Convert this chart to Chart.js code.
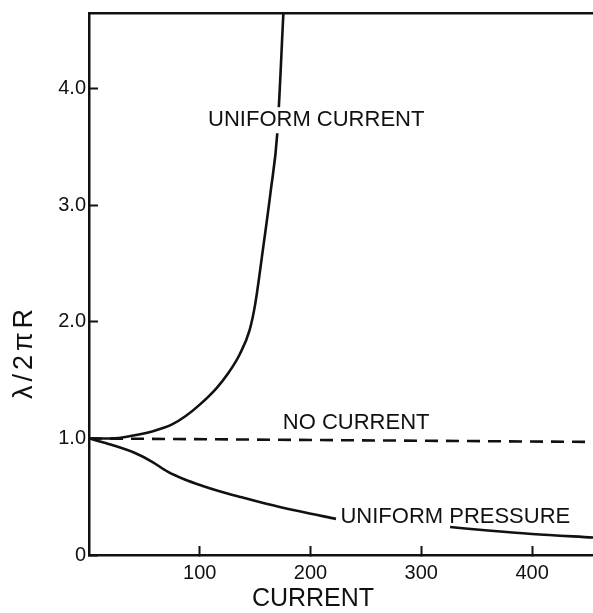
<!DOCTYPE html>
<html>
<head>
<meta charset="utf-8">
<script src="https://cdn.jsdelivr.net/npm/chart.js@4.4.0/dist/chart.umd.min.js"></script>
<style>
  html, body { margin: 0; padding: 0; background: #fff; }
</style>
</head>
<body>
<canvas id="chart" width="593" height="613"></canvas>
<script>
// values (x = current, y = lambda / 2 pi R)
const uniformCurrentX = [0, 20, 40, 57, 75, 87, 100, 115, 125, 136, 145, 150, 157, 164, 170, 175.5];
const uniformCurrentY = [1.0, 1.0, 1.025, 1.06, 1.12, 1.19, 1.29, 1.43, 1.55, 1.72, 1.93, 2.15, 2.62, 3.12, 3.62, 4.65];

const noCurrentX = [0, 455];
const noCurrentY = [1.0, 0.97];

// the null leaves the gap where the label sits
const uniformPressureX = [0, 15, 41.5, 57, 71, 87, 102, 117, 138, 160, 190, 223, 270, 326, 360, 400, 455];
const uniformPressureY = [1.0, 0.96, 0.875, 0.80, 0.715, 0.645, 0.595, 0.55, 0.495, 0.44, 0.375, 0.31, null, 0.24, 0.21, 0.18, 0.15];

const xTicks = [100, 200, 300, 400];
const yTicks = ['0', '1.0', '2.0', '3.0', '4.0'];

const INK = '#111';
const FONT = '"Liberation Sans", Arial, sans-serif';

function toPoints(xs, ys) {
    return xs.map((x, i) => ({ x: x, y: ys[i] }));
}

function lineSet(label, xs, ys, dash) {
    return {
        label: label,
        data: toPoints(xs, ys),
        borderColor: INK,
        borderWidth: 2.6,
        borderDash: dash || [],
        pointRadius: 0,
        fill: false,
        spanGaps: false,
        cubicInterpolationMode: 'monotone'
    };
}

const notes = [
    { text: 'UNIFORM CURRENT', x: 107.5, y: 3.73, clear: true },
    { text: 'NO CURRENT', x: 175, y: 1.13 },
    { text: 'UNIFORM PRESSURE', x: 227, y: 0.33 }
];

const notesPlugin = {
    id: 'notes',
    afterDraw(chart) {
        const ctx = chart.ctx,
            xs = chart.scales.x,
            ys = chart.scales.y;
        ctx.save();
        ctx.font = '22px ' + FONT;
        ctx.textBaseline = 'middle';
        ctx.textAlign = 'left';
        notes.forEach(n => {
            const px = xs.getPixelForValue(n.x),
                py = ys.getPixelForValue(n.y);
            if (n.clear) {
                const w = ctx.measureText(n.text).width;
                ctx.fillStyle = '#fff';
                ctx.fillRect(px - 4, py - 13, w + 8, 26);
            }
            ctx.fillStyle = INK;
            ctx.fillText(n.text, px, py);
        });

        // axis titles
        ctx.font = '25px ' + FONT;
        ctx.textAlign = 'center';
        ctx.fillText('CURRENT', 313, 599);

        ctx.translate(25, 352);
        ctx.rotate(-Math.PI / 2);
        ctx.font = '27px ' + FONT;
        ctx.letterSpacing = '4px';
        ctx.fillText('\u03bb/2\u03c0R', 0, 0);
        ctx.restore();
    }
};

// drop the half-label padding chart.js reserves so the frame sits where the figure has it
function noPad(s) {
    s.paddingTop = 0;
    s.paddingBottom = 0;
    s.paddingLeft = 0;
    s.paddingRight = 0;
}

const ctx = document.getElementById('chart').getContext('2d');
new Chart(ctx, {
    type: 'line',
    data: {
        datasets: [
            lineSet('Uniform current', uniformCurrentX, uniformCurrentY),
            lineSet('No current', noCurrentX, noCurrentY, [13, 8]),
            lineSet('Uniform pressure', uniformPressureX, uniformPressureY)
        ]
    },
    options: {
        responsive: false,
        animation: false,
        layout: { padding: { top: 13, right: 0, left: 0, bottom: 0 } },
        plugins: {
            legend: { display: false },
            tooltip: { enabled: false }
        },
        scales: {
            x: {
                type: 'linear',
                position: 'bottom',
                min: 0,
                max: 455,
                afterFit: s => { s.height = 58; noPad(s); },
                afterBuildTicks: s => { s.ticks = xTicks.map(v => ({ value: v })); },
                ticks: {
                    includeBounds: false,
                    color: INK,
                    font: { family: FONT, size: 20 },
                    padding: 15,
                    maxRotation: 0
                },
                grid: {
                    drawOnChartArea: false,
                    tickLength: -9,
                    tickColor: INK,
                    tickWidth: 2
                },
                border: { color: INK, width: 2.5 }
            },
            xTop: {
                type: 'linear',
                position: 'top',
                min: 0,
                max: 455,
                afterFit: s => { s.height = 0; noPad(s); },
                ticks: { display: false },
                grid: { display: false },
                border: { color: INK, width: 2.5 }
            },
            y: {
                min: 0,
                max: 4.65,
                afterFit: s => { s.width = 89; noPad(s); },
                afterBuildTicks: s => { s.ticks = yTicks.map(t => ({ value: parseFloat(t) })); },
                ticks: {
                    includeBounds: false,
                    color: INK,
                    font: { family: FONT, size: 20 },
                    padding: 12,
                    callback: (v, i) => yTicks[i]
                },
                grid: {
                    drawOnChartArea: false,
                    tickLength: -9,
                    tickColor: INK,
                    tickWidth: 2
                },
                border: { color: INK, width: 2.5 }
            }
        }
    },
    plugins: [notesPlugin]
});
</script>
</body>
</html>
